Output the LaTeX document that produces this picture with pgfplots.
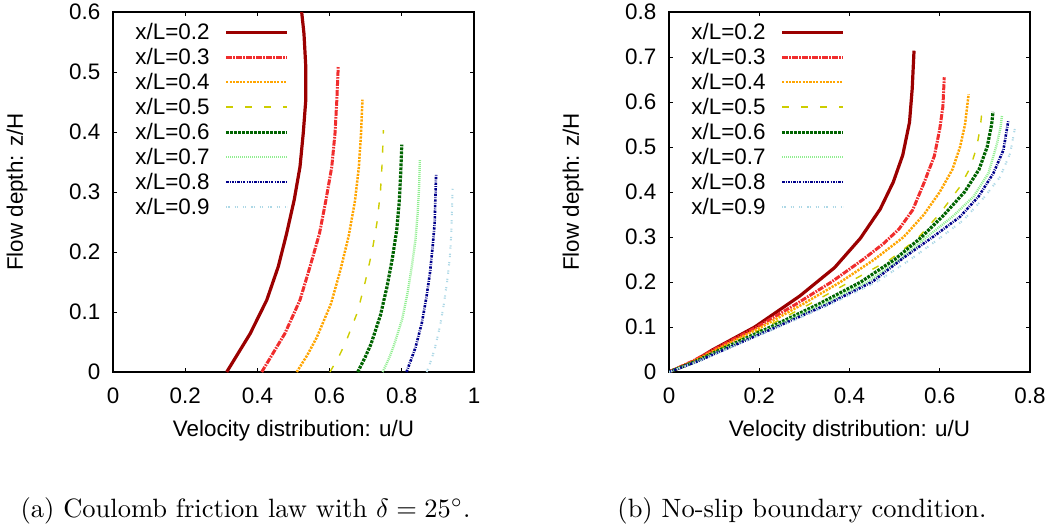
\documentclass[border=0pt]{standalone}
\usepackage{fontspec}
\usepackage{pgfplots}
\pgfplotsset{compat=1.18}
\newfontfamily\gpfamily{Liberation Sans}
\newcommand\gpfont{\gpfamily\fontsize{11.2}{13.4}\selectfont}
\definecolor{cA}{RGB}{155,0,0}
\definecolor{cB}{RGB}{240,45,45}
\definecolor{cC}{RGB}{255,165,0}
\definecolor{cD}{RGB}{205,205,0}
\definecolor{cE}{RGB}{0,100,0}
\definecolor{cF}{RGB}{144,238,144}
\definecolor{cG}{RGB}{0,0,139}
\definecolor{cH}{RGB}{173,216,230}
\pgfplotsset{
  gpaxis/.style={
    scale only axis, width=180.5pt, height=180pt, anchor=south west,
    axis line style={line width=0.6pt},
    every tick/.style={black, line width=0.5pt},
    major tick length=2.2pt, tick align=inside,
    /pgf/number format/assume math mode=true,
    tick label style={font=\gpfont},
    xticklabel style={yshift=-4.3pt},
    yticklabel style={xshift=-2.8pt},
    every axis x label/.style={at={(axis description cs:0.5,-0.1797)}, anchor=base, font=\gpfont},
    every axis y label/.style={at={(axis description cs:-0.266,0.5)}, rotate=90, anchor=center, font=\gpfont},
    legend plot pos=right,
    legend cell align=left,
    legend style={draw=none, fill=none, at={(0,1)}, anchor=north west,
      xshift=9pt, yshift=-5.65pt, inner sep=0pt, row sep=2.5pt,
      /tikz/column sep=5.5pt, font=\gpfont,
      nodes={inner xsep=2pt, inner ysep=0pt, text height=8pt, text depth=2pt}},
    legend image code/.code={\draw[#1] (0pt,0.8pt) -- (30.5pt,0.8pt);},
  },
  sA/.style={cA, line width=1.6pt},
  sB/.style={cB, line width=1.5pt, line cap=butt, dash pattern=on 3pt off 0.6pt on 0.8pt off 0.6pt},
  sC/.style={cC, line width=1.25pt, line cap=butt, dash pattern=on 1.1pt off 0.6pt},
  sD/.style={cD, line width=0.7pt, line cap=butt, dash pattern=on 3.5pt off 6pt},
  sE/.style={cE, line width=1.6pt, line cap=butt, dash pattern=on 1.4pt off 0.6pt},
  sF/.style={cF, line width=1.2pt, line cap=butt, dash pattern=on 0.5pt off 0.5pt},
  sG/.style={cG, line width=1.3pt, line cap=butt, dash pattern=on 1.2pt off 0.6pt on 0.4pt off 0.6pt},
  sH/.style={cH, line width=1pt, line cap=butt, dash pattern=on 0.6pt off 0.5pt on 0.6pt off 2.5pt},
}
\begin{document}
\begin{tikzpicture}
\useasboundingbox (0,0) rectangle (527pt,263.5pt);
\begin{axis}[gpaxis, at={(56.5pt,77.5pt)},
  xmin=0, xmax=1, ymin=0, ymax=0.6,
  xtick={0,0.2,0.4,0.6,0.8,1}, ytick={0,0.1,0.2,0.3,0.4,0.5,0.6},
  xlabel={Velocity distribution: u/U}, ylabel={Flow depth: z/H}]
\addplot[sA] coordinates {(0.315,0) (0.380,0.064) (0.426,0.12) (0.458,0.176) (0.481,0.231) (0.502,0.287) (0.518,0.342) (0.527,0.398) (0.534,0.453) (0.534,0.509) (0.529,0.564) (0.523,0.598) (0.519,0.62)};
\addlegendentry{x/L=0.2}
\addplot[sB] coordinates {(0.412,0) (0.476,0.064) (0.518,0.12) (0.546,0.176) (0.572,0.231) (0.590,0.287) (0.606,0.342) (0.615,0.398) (0.620,0.453) (0.624,0.51)};
\addlegendentry{x/L=0.3}
\addplot[sC] coordinates {(0.509,0) (0.538,0.028) (0.564,0.057) (0.604,0.114) (0.630,0.170) (0.653,0.227) (0.670,0.284) (0.681,0.341) (0.687,0.397) (0.691,0.454)};
\addlegendentry{x/L=0.4}
\addplot[sD] coordinates {(0.601,0) (0.625,0.025) (0.645,0.050) (0.678,0.101) (0.699,0.151) (0.718,0.202) (0.732,0.252) (0.741,0.302) (0.746,0.353) (0.749,0.403)};
\addlegendentry{x/L=0.5}
\addplot[sE] coordinates {(0.678,0) (0.698,0.024) (0.715,0.047) (0.741,0.095) (0.759,0.142) (0.774,0.190) (0.786,0.237) (0.793,0.284) (0.797,0.332) (0.800,0.379)};
\addlegendentry{x/L=0.6}
\addplot[sF] coordinates {(0.747,0) (0.764,0.022) (0.778,0.044) (0.801,0.088) (0.816,0.132) (0.828,0.177) (0.838,0.221) (0.844,0.265) (0.848,0.309) (0.850,0.353)};
\addlegendentry{x/L=0.7}
\addplot[sG] coordinates {(0.813,0) (0.826,0.021) (0.838,0.041) (0.856,0.083) (0.868,0.124) (0.878,0.165) (0.885,0.206) (0.891,0.248) (0.893,0.289) (0.895,0.330)};
\addlegendentry{x/L=0.8}
\addplot[sH] coordinates {(0.869,0) (0.881,0.019) (0.891,0.038) (0.906,0.077) (0.917,0.115) (0.926,0.153) (0.933,0.191) (0.937,0.230) (0.939,0.268) (0.941,0.306)};
\addlegendentry{x/L=0.9}
\end{axis}
\begin{axis}[gpaxis, at={(334.5pt,77.5pt)},
  xmin=0, xmax=0.8, ymin=0, ymax=0.8,
  xtick={0,0.2,0.4,0.6,0.8}, ytick={0,0.1,0.2,0.3,0.4,0.5,0.6,0.7,0.8},
  xlabel={Velocity distribution: u/U}, ylabel={Flow depth: z/H}]
\addplot[sA] coordinates {(0,0) (0.054,0.023) (0.096,0.049) (0.19,0.10) (0.29,0.169) (0.367,0.232) (0.424,0.297) (0.468,0.362) (0.497,0.422) (0.518,0.482) (0.533,0.555) (0.539,0.63) (0.543,0.714)};
\addlegendentry{x/L=0.2}
\addplot[sB] coordinates {(0,0) (0.052,0.024) (0.1,0.05) (0.195,0.1) (0.28,0.15) (0.36,0.2) (0.43,0.25) (0.475,0.285) (0.51,0.318) (0.54,0.36) (0.565,0.42) (0.588,0.48) (0.6,0.54) (0.607,0.59) (0.61,0.655)};
\addlegendentry{x/L=0.3}
\addplot[sC] coordinates {(0,0) (0.055,0.024) (0.105,0.05) (0.205,0.1) (0.295,0.15) (0.38,0.2) (0.455,0.25) (0.52,0.3) (0.565,0.35) (0.6,0.4) (0.628,0.45) (0.645,0.5) (0.656,0.55) (0.664,0.617)};
\addlegendentry{x/L=0.4}
\addplot[sD] coordinates {(0,0) (0.058,0.024) (0.11,0.05) (0.215,0.1) (0.31,0.15) (0.40,0.2) (0.49,0.25) (0.549,0.295) (0.601,0.353) (0.645,0.412) (0.668,0.455) (0.682,0.5) (0.69,0.545) (0.695,0.593)};
\addlegendentry{x/L=0.5}
\addplot[sE] coordinates {(0,0) (0.06,0.024) (0.115,0.05) (0.225,0.1) (0.33,0.15) (0.425,0.2) (0.50,0.25) (0.56,0.3) (0.61,0.35) (0.655,0.4) (0.687,0.45) (0.705,0.5) (0.715,0.55) (0.718,0.578)};
\addlegendentry{x/L=0.6}
\addplot[sF] coordinates {(0,0) (0.062,0.024) (0.12,0.05) (0.232,0.1) (0.34,0.15) (0.44,0.2) (0.512,0.25) (0.571,0.3) (0.628,0.345) (0.675,0.39) (0.708,0.442) (0.727,0.508) (0.735,0.545) (0.738,0.571)};
\addlegendentry{x/L=0.7}
\addplot[sG] coordinates {(0,0) (0.064,0.024) (0.123,0.05) (0.238,0.1) (0.35,0.15) (0.45,0.2) (0.52,0.254) (0.586,0.301) (0.645,0.345) (0.686,0.39) (0.719,0.442) (0.741,0.493) (0.752,0.559)};
\addlegendentry{x/L=0.8}
\addplot[sH] coordinates {(0,0) (0.066,0.024) (0.126,0.05) (0.243,0.1) (0.357,0.15) (0.46,0.2) (0.535,0.25) (0.594,0.293) (0.653,0.338) (0.70,0.39) (0.734,0.434) (0.756,0.486) (0.767,0.544)};
\addlegendentry{x/L=0.9}
\end{axis}
\node[anchor=base, scale=1.325] at (122.75pt,5pt) {(a) Coulomb friction law with $\delta = 25^\circ$.};
\node[anchor=base, scale=1.325] at (401pt,5pt) {(b) No-slip boundary condition.};
\end{tikzpicture}
\end{document}
